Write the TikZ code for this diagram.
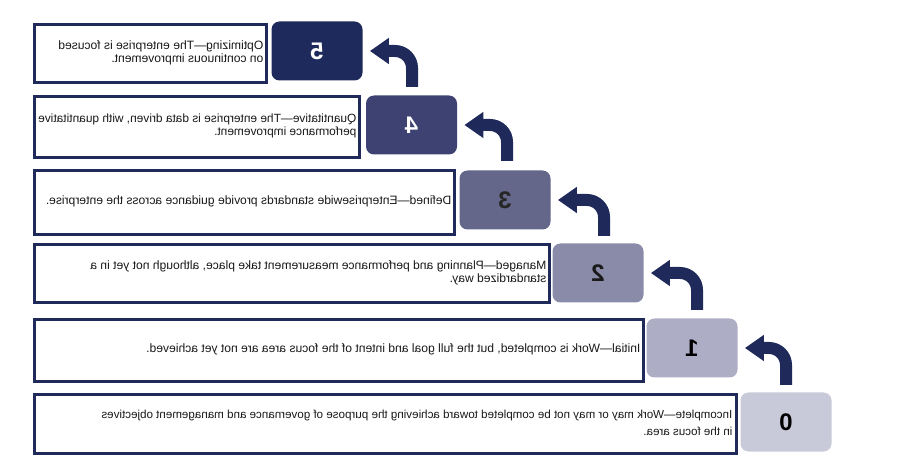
\documentclass[tikz,border=0pt]{standalone}
\usepackage{fontspec}
\usepackage{graphicx}
\setmainfont{Liberation Sans}
\usetikzlibrary{arrows.meta}
\definecolor{navy}{HTML}{1F2A5A}
\definecolor{c5}{HTML}{1F2A5C}
\definecolor{c4}{HTML}{3E4272}
\definecolor{c3}{HTML}{64668A}
\definecolor{c2}{HTML}{8A8BA9}
\definecolor{c1}{HTML}{ADADC5}
\definecolor{c0}{HTML}{C9CAD9}
\newcommand\mirtext[1]{\reflectbox{\begin{tabular}{@{}l@{}}#1\end{tabular}}}
\begin{document}
\begin{tikzpicture}[x=0.5pt,y=-0.5pt,
  tbox/.style={draw=navy, line width=1.4pt, fill=white, inner sep=0pt, anchor=north west},
  txt/.style={anchor=east, inner sep=0pt, text=black!90, font=\fontsize{6.05pt}{6.5pt}\selectfont},
  num/.style={rounded corners=4pt, minimum width=45.5pt, minimum height=29.5pt, inner sep=0pt,
    font=\fontsize{12pt}{14pt}\selectfont\bfseries},
  barrow/.style={navy, line width=6pt, rounded corners=8.5pt, -{Triangle[length=9.5pt,width=12.5pt]}}
]
\useasboundingbox (0,0) rectangle (900,470);
% text boxes
\node[tbox, minimum width=116pt, minimum height=29pt] (t5) at (33,23) {};
\node[tbox, minimum width=162.5pt, minimum height=30.5pt] (t4) at (33,95) {};
\node[tbox, minimum width=210pt, minimum height=32pt] (t3) at (33,169) {};
\node[tbox, minimum width=257.5pt, minimum height=29pt] (t2) at (33,243) {};
\node[tbox, minimum width=304.5pt, minimum height=31pt] (t1) at (33,318) {};
\node[tbox, minimum width=351pt, minimum height=29.5pt] (t0) at (33,393) {};
% texts
\node[txt] (x5) at ([xshift=-2pt]t5.east) {\mirtext{Optimizing\textemdash The enterprise is focused\\on continuous improvement.}};
\node[txt, font=\fontsize{5.95pt}{6.5pt}\selectfont] (x4) at ([xshift=-2pt]t4.east) {\mirtext{Quantitative\textemdash The enterprise is data driven, with quantitative\\performance improvement.}};
\node[txt] (x3) at ([xshift=-2pt]t3.east) {\mirtext{Defined\textemdash Enterprisewide standards provide guidance across the enterprise.}};
\node[txt] (x2) at ([xshift=-2pt]t2.east) {\mirtext{Managed\textemdash Planning and performance measurement take place, although not yet in a\\standardized way.}};
\node[txt] (x1) at ([xshift=-2pt]t1.east) {\mirtext{Initial\textemdash Work is completed, but the full goal and intent of the focus area are not yet achieved.}};
\node[txt, font=\fontsize{5.8pt}{8.5pt}\selectfont] (x0) at ([xshift=-2.5pt]t0.east) {\mirtext{Incomplete\textemdash Work may or may not be completed toward achieving the purpose of governance and management objectives\\in the focus area.}};
% number boxes
\node[num, fill=c5, text=white] (n5) at (317,51) {\reflectbox{5}};
\node[num, fill=c4, text=white] (n4) at (411.5,125) {\reflectbox{4}};
\node[num, fill=c3, text=black!85] (n3) at (505,200) {\reflectbox{3}};
\node[num, fill=c2, text=black!90] (n2) at (598,273) {\reflectbox{2}};
\node[num, fill=c1, text=black] (n1) at (692,348) {\reflectbox{1}};
\node[num, fill=c0, text=black] (n0) at (786,422) {\reflectbox{0}};
% arrows
\coordinate (a5) at (412,87);
\coordinate (a4) at (507,161);
\coordinate (a3) at (604,236);
\coordinate (a2) at (697,310);
\coordinate (a1) at (786,385);
\draw[barrow] (a5) |- ([xshift=3.5pt]n5.east);
\draw[barrow] (a4) |- ([xshift=3.5pt]n4.east);
\draw[barrow] (a3) |- ([xshift=3.5pt]n3.east);
\draw[barrow] (a2) |- ([xshift=3.5pt]n2.east);
\draw[barrow] (a1) |- ([xshift=3.5pt]n1.east);
\end{tikzpicture}
\end{document}
